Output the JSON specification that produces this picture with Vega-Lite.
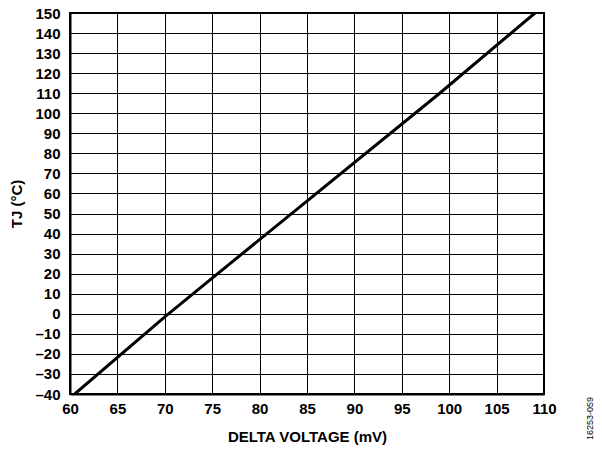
{
  "$schema": "https://vega.github.io/schema/vega-lite/v6.json",
  "width": 474,
  "height": 381,
  "autosize": "none",
  "padding": {"left": 70, "top": 13, "right": 58, "bottom": 55},
  "background": "white",
  "config": {
    "font": "Liberation Sans",
    "view": {"stroke": "black", "strokeWidth": 2},
    "axis": {
      "gridColor": "black", "gridOpacity": 1, "gridWidth": 1,
      "domainColor": "black", "domainWidth": 2,
      "ticks": false, "labelFlush": false, "labelOverlap": false, "labelBound": false,
      "labelFont": "Liberation Sans", "labelFontWeight": "bold", "labelFontSize": 15, "labelColor": "black",
      "titleFont": "Liberation Sans", "titleFontWeight": "bold", "titleFontSize": 15, "titleColor": "black"
    }
  },
  "title": {
    "text": "16253-059",
    "orient": "right",
    "anchor": "end",
    "frame": "group",
    "align": "right",
    "angle": -90,
    "dx": -3,
    "fontSize": 9,
    "fontWeight": "normal",
    "font": "Liberation Sans",
    "color": "black",
    "offset": 21
  },
  "data": {
    "values": [
      {"v": 60.5, "t": -40},
      {"v": 70.0, "t": -1.5},
      {"v": 75.0, "t": 17.8},
      {"v": 99.0, "t": 110},
      {"v": 109.05, "t": 150}
    ]
  },
  "mark": {"type": "line", "color": "black", "strokeWidth": 3, "clip": true},
  "encoding": {
    "x": {
      "field": "v", "type": "quantitative",
      "scale": {"domain": [60, 110], "nice": false, "zero": false},
      "axis": {"values": [60,65,70,75,80,85,90,95,100,105,110], "title": "DELTA VOLTAGE (mV)", "labelPadding": 7, "titlePadding": 13}
    },
    "y": {
      "field": "t", "type": "quantitative",
      "scale": {"domain": [-40, 150], "nice": false, "zero": false},
      "axis": {
        "values": [-40,-30,-20,-10,0,10,20,30,40,50,60,70,80,90,100,110,120,130,140,150],
        "title": "TJ (°C)", "labelPadding": 10, "titlePadding": 10,
        "labelExpr": "replace(datum.label, '−', '–')"
      }
    }
  }
}
